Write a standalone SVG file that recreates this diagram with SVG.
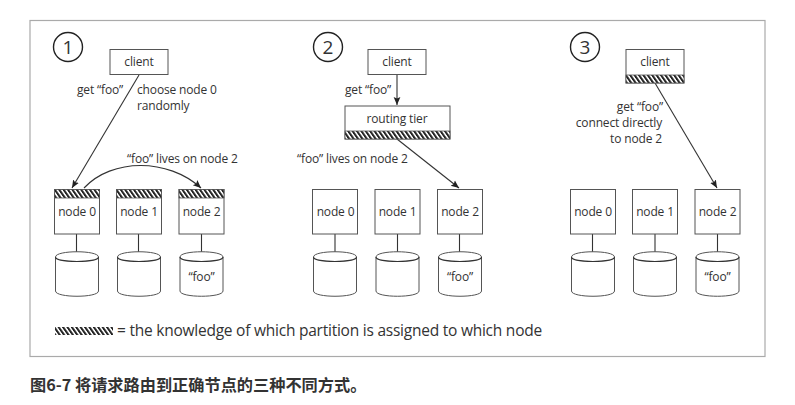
<svg xmlns="http://www.w3.org/2000/svg" xmlns:xlink="http://www.w3.org/1999/xlink" width="795" height="405" viewBox="0 0 795 405">
<style>
text{font-family:"Open Sans","Noto Sans",sans-serif;font-size:12px;fill:#333;letter-spacing:-.15px}
.m{text-anchor:middle}.e{text-anchor:end}
.b{fill:#fff;stroke:#555;stroke-width:1}
.h{fill:url(#hatch);stroke:#555;stroke-width:.8}
.l{fill:none;stroke:#333;stroke-width:1.1}
.a{marker-end:url(#arrow)}
.c{fill:#fff;stroke:#222;stroke-width:1.4}
.n{font-size:19px;letter-spacing:0}
</style>
<defs>
<pattern id="hatch" width="4.4" height="9" patternUnits="userSpaceOnUse" patternTransform="skewX(35)">
<rect width="4.4" height="9" fill="#fff"/><rect width="2.4" height="9" fill="#222"/>
</pattern>
<marker id="arrow" markerWidth="10" markerHeight="10" refX="8" refY="4" orient="auto" markerUnits="userSpaceOnUse"><path d="M0,0.6L8,4L0,7.4L1.5,4Z" fill="#222"/></marker>
<g id="cyl">
<path class="b" d="M0,5V39C0,46 43,46 43,39V5C43,-2 0,-2 0,5Z"/>
<path class="l" stroke-width=".9" d="M0,5C0,11 43,11 43,5"/>
</g>
</defs>
<rect width="795" height="405" fill="#fff"/>
<rect x="30" y="20.500" width="735" height="336" fill="#fff" stroke="#aaa" stroke-width="1.200"/>

<g id="connectors">
<path class="l a" d="M139,75L72,188"/>
<path class="l a" d="M84,188C112,158 168,158 201,188"/>
<path class="l" d="M76.500,234V252M138.500,234V252M201.500,234V252"/>
<path class="l a" d="M397,75V105"/>
<path class="l a" d="M397,139L459,188"/>
<path class="l" d="M335,234V252M397.500,234V252M459.500,234V252"/>
<path class="l a" d="M655,83L717,188"/>
<path class="l" d="M592.500,234V252M655,234V252M717.500,234V252"/>
</g>

<g id="marker1"><circle class="c" cx="68" cy="47" r="14.500"/><text class="m n" x="68" y="54">1</text></g>
<g id="marker2"><circle class="c" cx="328" cy="47" r="14.500"/><text class="m n" x="328" y="54">2</text></g>
<g id="marker3"><circle class="c" cx="585" cy="47" r="14.500"/><text class="m n" x="585" y="54">3</text></g>

<g id="client1"><rect class="b" x="110" y="49.500" width="58" height="25"/><text class="m" x="139" y="66">client</text></g>
<g id="p1-node0"><rect class="b" x="54.500" y="189.500" width="45" height="44.500"/><rect class="h" x="54.500" y="189.500" width="45" height="8.500"/><text class="m" x="77" y="216">node 0</text></g>
<g id="p1-node1"><rect class="b" x="116.500" y="189.500" width="45" height="44.500"/><rect class="h" x="116.500" y="189.500" width="45" height="8.500"/><text class="m" x="139" y="216">node 1</text></g>
<g id="p1-node2"><rect class="b" x="179" y="189.500" width="45" height="44.500"/><rect class="h" x="179" y="189.500" width="45" height="8.500"/><text class="m" x="201.500" y="216">node 2</text></g>
<g id="p1-db0"><use xlink:href="#cyl" href="#cyl" x="55.500" y="252"/></g>
<g id="p1-db1"><use xlink:href="#cyl" href="#cyl" x="117.500" y="252"/></g>
<g id="p1-db2"><use xlink:href="#cyl" href="#cyl" x="180" y="252"/><text class="m" x="201.500" y="281">“foo”</text></g>
<text x="77" y="94">get “foo”</text>
<text x="137" y="94">choose node 0</text>
<text x="137" y="110">randomly</text>
<text x="127" y="163">“foo” lives on node 2</text>

<g id="client2"><rect class="b" x="368" y="49.500" width="58" height="25"/><text class="m" x="397" y="66">client</text></g>
<g id="routing"><rect class="b" x="345" y="106" width="105" height="33"/><rect class="h" x="345" y="131" width="105" height="8"/><text class="m" x="397" y="123">routing tier</text></g>
<g id="p2-node0"><rect class="b" x="312.500" y="189.500" width="45" height="44.500"/><text class="m" x="335.500" y="216">node 0</text></g>
<g id="p2-node1"><rect class="b" x="375" y="189.500" width="45" height="44.500"/><text class="m" x="397.500" y="216">node 1</text></g>
<g id="p2-node2"><rect class="b" x="437.500" y="189.500" width="45" height="44.500"/><text class="m" x="460" y="216">node 2</text></g>
<g id="p2-db0"><use xlink:href="#cyl" href="#cyl" x="313.500" y="252"/></g>
<g id="p2-db1"><use xlink:href="#cyl" href="#cyl" x="376" y="252"/></g>
<g id="p2-db2"><use xlink:href="#cyl" href="#cyl" x="438.500" y="252"/><text class="m" x="460" y="281">“foo”</text></g>
<text x="345" y="94">get “foo”</text>
<text x="297" y="163">“foo” lives on node 2</text>

<g id="client3"><rect class="b" x="626" y="49.500" width="58" height="33.500"/><rect class="h" x="626" y="75" width="58" height="8"/><text class="m" x="655" y="66">client</text></g>
<g id="p3-node0"><rect class="b" x="570.500" y="189.500" width="45" height="44.500"/><text class="m" x="593" y="216">node 0</text></g>
<g id="p3-node1"><rect class="b" x="632.500" y="189.500" width="45" height="44.500"/><text class="m" x="655" y="216">node 1</text></g>
<g id="p3-node2"><rect class="b" x="695" y="189.500" width="45" height="44.500"/><text class="m" x="717.500" y="216">node 2</text></g>
<g id="p3-db0"><use xlink:href="#cyl" href="#cyl" x="571.500" y="252"/></g>
<g id="p3-db1"><use xlink:href="#cyl" href="#cyl" x="633.500" y="252"/></g>
<g id="p3-db2"><use xlink:href="#cyl" href="#cyl" x="696" y="252"/><text class="m" x="717.500" y="281">“foo”</text></g>
<text class="e" x="663" y="111">get “foo”</text>
<text class="e" x="662" y="127">connect directly</text>
<text class="e" x="662" y="143">to node 2</text>

<g id="legend"><rect x="55" y="327" width="58" height="8" fill="url(#hatch)"/><text x="117" y="336" style="font-size:15.500px;letter-spacing:-.235px">= the knowledge of which partition is assigned to which node</text></g>
<text x="30" y="391" style="font-family:'Noto Sans CJK SC','Noto Sans',sans-serif;font-size:16.200px;font-weight:700;fill:#333;letter-spacing:0">图6-7 将请求路由到正确节点的三种不同方式。</text>
</svg>
